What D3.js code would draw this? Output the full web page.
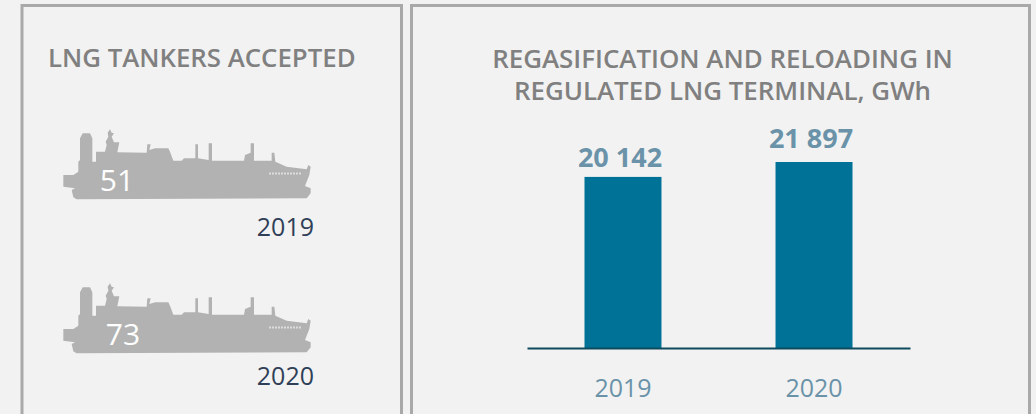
<!DOCTYPE html>
<html>
<head>
<meta charset="utf-8">
<script src="https://cdnjs.cloudflare.com/ajax/libs/d3/7.8.5/d3.min.js"></script>
<style>
  html, body { margin: 0; padding: 0; background: #f2f2f2; overflow: hidden; }
  text { font-family: "Open Sans", sans-serif; }
</style>
</head>
<body>
<div class="chart"></div>
<script>
var svgWidth = 1036;
var svgHeight = 414;

// Left panel
var tankerYears = ["2019", "2020"];
var tankerCounts = [51, 73];

// Right panel
var barYears = ["2019", "2020"];
var barValues = [20142, 21897];
var barLabels = ["20 142", "21 897"];

var svg = d3.select(".chart")
  .append("svg")
  .attr("width", svgWidth)
  .attr("height", svgHeight)
  .style("display", "block");

// panel frames run off the bottom of the picture
svg.selectAll(".frame")
  .data([[22, 379.5], [411.5, 618]])
  .enter()
  .append("rect")
  .attr("class", "frame")
  .attr("x", d => d[0])
  .attr("y", 5.5)
  .attr("width", d => d[1])
  .attr("height", 430)
  .attr("fill", "none")
  .attr("stroke", "#a9a9a9")
  .attr("stroke-width", 3);

// Titles
svg.append("text")
  .attr("x", 48)
  .attr("y", 67)
  .attr("font-size", 25.8)
  .attr("font-weight", 600)
  .attr("fill", "#808080")
  .text("LNG TANKERS ACCEPTED");

svg.selectAll(".title")
  .data(["REGASIFICATION AND RELOADING IN", "REGULATED LNG TERMINAL, GWh"])
  .enter()
  .append("text")
  .attr("class", "title")
  .attr("x", 722.5)
  .attr("y", (d, i) => 68 + i * 32)
  .attr("text-anchor", "middle")
  .attr("font-size", 25.9)
  .attr("font-weight", 600)
  .attr("fill", "#808080")
  .text(d => d);

// Ship silhouette, traced in 3x pixels of the icon
var shipOutline = [[70,268],[70,195],[100,195],[115,185],[115,155],[120,150],[120,85],[128,70],[150,70],[157,85],[157,155],[168,155],[168,125],[195,125],[200,105],[197,95],[205,80],[203,68],[210,58],[215,68],[222,70],[215,80],[222,97],[238,97],[232,127],[320,128],[322,103],[332,103],[328,120],[345,115],[385,115],[390,125],[400,152],[425,152],[432,145],[466,145],[466,103],[474,103],[474,145],[506,150],[506,100],[516,100],[516,152],[612,152],[615,135],[632,128],[632,100],[642,100],[642,152],[695,152],[695,128],[703,128],[706,155],[740,170],[800,178],[805,165],[812,170],[808,195],[795,228],[812,235],[812,250],[800,265],[110,268],[100,262],[95,240],[105,235],[70,230]];

var shipPath = d3.line()
  .x(d => d[0] / 3)
  .y(d => d[1] / 3);

var shipOffsets = [[40, 110], [40, 264]];
var countOffsets = [[117, 191], [123, 345]];
var yearBaselines = [236, 385];

tankerYears.forEach(function(year, i) {
  var ship = svg.append("g")
    .attr("transform", `translate(${shipOffsets[i][0]}, ${shipOffsets[i][1]})`);

  ship.append("path")
    .attr("d", shipPath(shipOutline) + "Z")
    .attr("fill", "#b2b2b2");

  // illegible lettering on the bow, drawn as a dashed smudge
  ship.append("line")
    .attr("x1", 229)
    .attr("x2", 261)
    .attr("y1", 63.5)
    .attr("y2", 63.5)
    .attr("stroke", "#dcdcdc")
    .attr("stroke-width", 2)
    .attr("stroke-dasharray", "2 1");

  svg.append("text")
    .attr("x", countOffsets[i][0])
    .attr("y", countOffsets[i][1])
    .attr("text-anchor", "middle")
    .attr("font-size", 30)
    .attr("fill", "#ffffff")
    .text(tankerCounts[i]);

  svg.append("text")
    .attr("x", 314)
    .attr("y", yearBaselines[i])
    .attr("text-anchor", "end")
    .attr("font-size", 25)
    .attr("fill", "#2f3f58")
    .text(year);
});

// Bar chart
var xBandScale = d3.scaleBand()
  .domain(barYears)
  .range([527, 910])
  .paddingInner(0.597)
  .paddingOuter(0.301);

var yLinearScale = d3.scaleLinear()
  .domain([0, d3.max(barValues)])
  .range([348, 162]);

svg.selectAll(".bar")
  .data(barValues)
  .enter()
  .append("rect")
  .attr("class", "bar")
  .attr("x", (d, i) => xBandScale(barYears[i]))
  .attr("y", d => yLinearScale(d))
  .attr("width", xBandScale.bandwidth())
  .attr("height", d => yLinearScale(0) - yLinearScale(d))
  .attr("fill", "#007297");

// the gap above the bars is not the same in the reference
var labelGaps = [10, 14];

svg.selectAll(".bar-label")
  .data(barValues)
  .enter()
  .append("text")
  .attr("class", "bar-label")
  .attr("x", (d, i) => xBandScale(barYears[i]) + xBandScale.bandwidth() / 2 - 3)
  .attr("y", (d, i) => yLinearScale(d) - labelGaps[i])
  .attr("text-anchor", "middle")
  .attr("font-size", 27)
  .attr("font-weight", 700)
  .attr("fill", "#6a92a8")
  .text((d, i) => barLabels[i]);

var bottomAxis = d3.axisBottom(xBandScale).tickSize(0).tickPadding(31);

var xAxis = svg.append("g")
  .attr("transform", `translate(0, ${yLinearScale(0)})`)
  .call(bottomAxis);

xAxis.select(".domain")
  .attr("stroke", "#0c4a5e")
  .attr("stroke-width", 2);

xAxis.selectAll("text")
  .attr("font-family", "'Open Sans', sans-serif")
  .attr("font-size", 25)
  .attr("fill", "#6a92a8");
</script>
</body>
</html>
